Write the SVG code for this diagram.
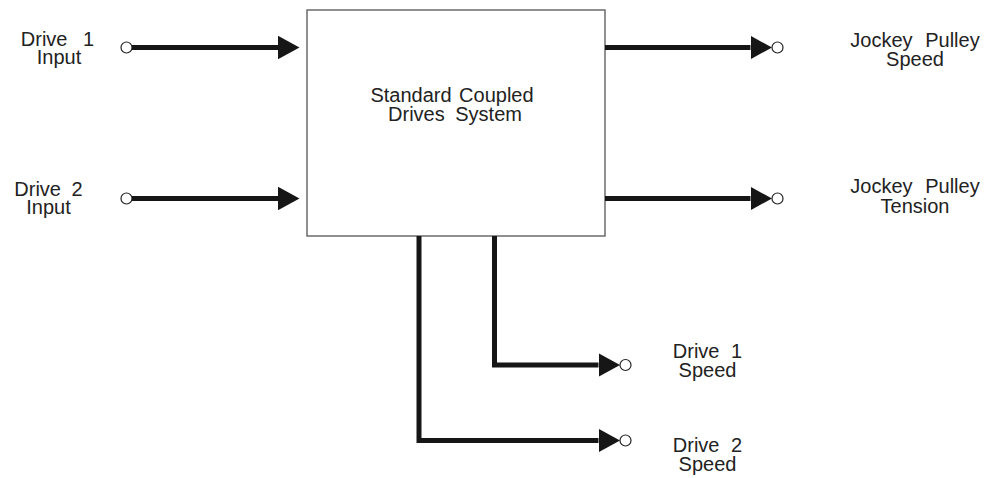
<svg xmlns="http://www.w3.org/2000/svg" width="986" height="478" viewBox="0 0 986 478">
<style>
  .lbl { font-family: "Liberation Sans", Arial, sans-serif; font-size: 20px; fill: #222; text-anchor: middle; }
  .wire { fill: none; stroke: #161616; stroke-width: 5; stroke-linejoin: miter; }
  .port { fill: #fff; stroke: #222; stroke-width: 1.2; }
  .box { fill: #fff; stroke: #555; stroke-width: 1.3; }
</style>
<defs>
  <marker id="arrow" markerUnits="userSpaceOnUse" markerWidth="22" markerHeight="24" refX="0" refY="11.75" orient="auto">
    <path d="M0,0 L21.5,11.75 L0,23.5 Z" fill="#161616"/>
  </marker>
</defs>
<rect width="986" height="478" fill="#fff"/>

<g id="system">
  <rect class="box" x="307" y="10" width="298" height="226"/>
  <text class="lbl"><tspan x="452" y="101.5" style="word-spacing:2px">Standard Coupled</tspan><tspan x="455" y="120.5" style="word-spacing:5px">Drives System</tspan></text>
</g>

<g id="drive1-input">
  <circle class="port" cx="126.5" cy="47.5" r="5.5"/>
  <text class="lbl"><tspan x="57.5" y="45.5" style="word-spacing:10px">Drive 1</tspan><tspan x="59" y="64">Input</tspan></text>
</g>

<g id="drive2-input">
  <circle class="port" cx="126.5" cy="198.5" r="5.5"/>
  <text class="lbl"><tspan x="48.5" y="195.5" style="word-spacing:5px">Drive 2</tspan><tspan x="48.5" y="214">Input</tspan></text>
</g>

<g id="jockey-speed">
  <circle class="port" cx="777.5" cy="47.5" r="5.5"/>
  <text class="lbl"><tspan x="915" y="47" style="word-spacing:7px">Jockey Pulley</tspan><tspan x="915" y="66">Speed</tspan></text>
</g>

<g id="jockey-tension">
  <circle class="port" cx="777.5" cy="198.5" r="5.5"/>
  <text class="lbl"><tspan x="915" y="193" style="word-spacing:7px">Jockey Pulley</tspan><tspan x="915" y="213">Tension</tspan></text>
</g>

<g id="drive1-speed">
  <circle class="port" cx="625.5" cy="365" r="5.5"/>
  <text class="lbl"><tspan x="707.5" y="357.5" style="word-spacing:6px">Drive 1</tspan><tspan x="707.5" y="376.5">Speed</tspan></text>
</g>

<g id="drive2-speed">
  <circle class="port" cx="625.5" cy="440.5" r="5.5"/>
  <text class="lbl"><tspan x="707.5" y="452" style="word-spacing:6px">Drive 2</tspan><tspan x="707.5" y="471">Speed</tspan></text>
</g>

<g id="connectors">
  <path class="wire" d="M132,47.5 H278" marker-end="url(#arrow)"/>
  <path class="wire" d="M132,198.5 H278" marker-end="url(#arrow)"/>
  <path class="wire" d="M605,47.5 H750.5" marker-end="url(#arrow)"/>
  <path class="wire" d="M605,198.5 H750.5" marker-end="url(#arrow)"/>
  <path class="wire" d="M494.5,236 V365 H598.5" marker-end="url(#arrow)"/>
  <path class="wire" d="M419,236 V440.5 H598.5" marker-end="url(#arrow)"/>
</g>
</svg>
